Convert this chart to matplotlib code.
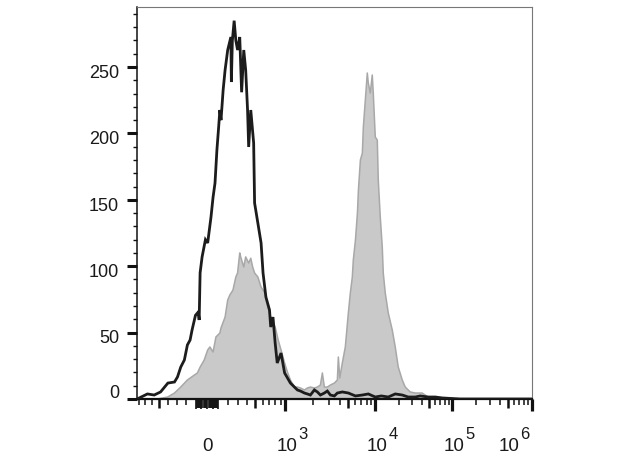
import numpy as np
import matplotlib
matplotlib.use("Agg")
import matplotlib.pyplot as plt
from matplotlib.ticker import FixedLocator, NullFormatter

plt.rcParams['font.family'] = ['Liberation Sans', 'DejaVu Sans']

# ---------------- data (fluorescence intensity vs. count) ----------------
black_x = [-840, -667, -567, -485, -400, -324, -292, -255, -218, -187, -157, -137, -107, -79, -70, -61,
           -43, -15, 3, 30, 48, 66, 85, 103, 113, 123, 143, 163, 193, 224, 229, 239, 258, 277, 298,
           320, 340, 364, 387, 409, 421, 445, 480, 492, 533, 576, 604, 647, 705, 724, 761, 798, 835,
           908, 982, 1133, 1350, 1456, 1609, 1734, 1869, 2066, 2230, 2406, 2662, 2872, 3106, 3459,
           3750, 4287, 5040, 6036, 7196, 8370, 10000, 11950, 14734, 18140, 22366, 26700, 32940,
           38200, 48450, 59800, 73600, 125000, 1000000]
black_y = [0, 3.8, 3, 5.3, 12, 12.8, 16.6, 24, 29.4, 40.7, 44.4, 52, 63, 65.5, 59.5, 95,
           107, 120, 117.5, 137, 152, 162.7, 187.5, 204.8, 217.6, 210, 232.7, 247.7, 262.8, 272.6, 238.7, 270, 284.9, 270, 262.8,
           272.6, 231, 262.8, 247.7, 217.6, 189.8, 217.6, 192.8, 147.6, 132.5, 117.5, 94.9, 76.8, 67, 54.2, 61.7, 42.2, 27.1,
           34.6, 19.6, 12, 6.8, 6, 4.5, 3.8, 3, 6.8, 5.3, 3, 4.5, 6, 3, 2.3,
           4.5, 5.3, 4.5, 2.3, 3, 3.8, 1.5, 2.3, 1.5, 3.8, 3, 1.5, 1.5,
           2.3, 1.5, 1.5, 0.8, 0, 0]

gray_x = [-524, -402, -324, -255, -187, -117, -88, -61, -25, 3, 21, 48, 75, 113, 123, 163, 193, 214,
          245, 277, 298, 320, 330, 364, 387, 421, 445, 468, 492, 533, 576, 633, 676, 724, 798, 853,
          908, 982, 1051, 1133, 1253, 1350, 1456, 1609, 1734, 1869, 2066, 2230, 2406, 2531, 2662,
          2872, 3106, 3459, 3750, 3852, 4000, 4287, 4646, 5040, 5300, 5575, 5718, 6036, 6348, 6510,
          6848, 7196, 7380, 7760, 8160, 8370, 8800, 9260, 9500, 10000, 10614, 10935, 11605, 12317,
          12690, 13470, 14734, 16590, 18140, 19840, 22366, 24450, 28370, 32940, 40500, 48450,
          73600, 93200]
gray_y = [0, 1.5, 4.5, 9, 14.3, 18, 19.6, 24, 29.4, 36.9, 39.2, 35.4, 46.7, 49.7, 53.5, 61.7, 74.5, 78.3,
          82, 91.9, 94.9, 110, 107, 99.4, 107, 102.4, 106, 99.4, 94.9, 91.9, 84.3, 79.8, 69.3, 61.7, 54.2, 44.4,
          36.9, 27.1, 20.3, 14.3, 9, 9, 8.3, 6.8, 8.3, 9, 8.3, 9, 10.5, 19.6, 9,
          9, 10.5, 12, 14.3, 31.6, 15.8, 27.1, 39.2, 64.8, 79.8, 91.9, 104.7, 119.7, 140, 157.4,
          180, 185.2, 204.8, 225, 245.5, 238, 230.4, 244, 230.4, 197.3, 195, 164.9, 137, 114.5,
          94.9, 79.8, 64.8, 52, 39.2, 24.1, 14.3, 9, 5.3, 4.5, 4.5, 1.5,
          0.8, 0]

y_tick_values = [0, 50, 100, 150, 200, 250]
x_decades = [3, 4, 5, 6]

# ---------------- biexponential-like axis scale ----------------
ANCHOR_VALS = np.array([0, 100, 200, 300, 400, 500, 700, 1e3, 2e3, 3e3, 5e3, 1e4, 1e5, 1e6, 1e7])
ANCHOR_POS = np.array([0, 11, 21, 30.5, 39.5, 48, 62, 78.3, 106, 122, 141, 168.3, 245.6, 325, 404.4])
ANCHOR_U = np.arcsinh(ANCHOR_VALS / 100.0)


def fwd(x):
    x = np.asarray(x, dtype=float)
    return np.sign(x) * np.interp(np.arcsinh(np.abs(x) / 100.0), ANCHOR_U, ANCHOR_POS)


def inv(g):
    g = np.asarray(g, dtype=float)
    return np.sign(g) * 100.0 * np.sinh(np.interp(np.abs(g), ANCHOR_POS, ANCHOR_U))


W, H = 623, 467
fig = plt.figure(figsize=(W / 100, H / 100), dpi=100)
ax = fig.add_axes([137 / W, 1 - 399 / H, (531.7 - 137) / W, (399 - 7) / H])
ax.set_xscale('function', functions=(fwd, inv))
ax.set_xlim(-842, 1e6)
ax.set_ylim(0, 295.2)

ax.fill_between(gray_x, gray_y, 0, facecolor='#c9c9c9', edgecolor='none', zorder=1)
ax.plot(gray_x, gray_y, color='#a8a8a8', lw=1.1, zorder=2)
ax.plot(black_x, black_y, color='#1c1c1c', lw=2.0, zorder=3, solid_joinstyle='miter')

# spines
for s in ['top', 'right']:
    ax.spines[s].set_color('#777777')
    ax.spines[s].set_linewidth(0.8)
ax.spines['left'].set_color('#111111')
ax.spines['left'].set_linewidth(1.1)
ax.spines['bottom'].set_color('#111111')
ax.spines['bottom'].set_linewidth(1.6)

# ---------------- y ticks ----------------
ax.yaxis.set_major_locator(FixedLocator(y_tick_values))
ax.yaxis.set_minor_locator(FixedLocator([v for v in range(10, 300, 10) if v % 50]))
ax.yaxis.set_major_formatter(NullFormatter())
ax.tick_params(axis='y', which='major', direction='out', length=7, width=2.2, color='#111111')
ax.tick_params(axis='y', which='minor', direction='out', length=3, width=1.0, color='#111111')
for v in y_tick_values:
    dy = 4.3 if v == 0 else -4.6
    ax.annotate(str(v), xy=(0, v), xycoords=('axes fraction', 'data'), xytext=(-13, dy),
                textcoords='offset points', ha='right', va='center', fontsize=13, color='#1a1a1a')

# ---------------- x ticks ----------------
x_major = [10 ** d for d in x_decades]
x_med = [-500, 500, 5e3, 5e4, 5e5]
x_zero = [v for v in range(-100, 101, 10)]
x_minor = [-800, -700, -600, -400, -300, -200, 200, 300, 400, 600, 700, 800, 900]
for d in [3, 4, 5]:
    x_minor += [m * 10 ** d for m in [2, 3, 4, 6, 7, 8, 9]]
all_x = x_major + x_med + x_zero + x_minor
ax.xaxis.set_major_locator(FixedLocator(all_x))
ax.xaxis.set_minor_locator(FixedLocator([]))
ax.xaxis.set_major_formatter(NullFormatter())
ax.tick_params(axis='x', which='major', direction='out', length=4.3, width=1.1, color='#111111')
ticks = ax.xaxis.get_major_ticks(len(all_x))
for t, v in zip(ticks, all_x):
    if v in x_major:
        t.tick1line.set_markersize(8.6)
        t.tick1line.set_markeredgewidth(2.3)
    elif v in x_med:
        t.tick1line.set_markersize(6.4)
        t.tick1line.set_markeredgewidth(1.8)
    elif v in x_zero:
        t.tick1line.set_markersize(7.5 if v in (0, -50, 50, -100, 100) else 6.5)
        t.tick1line.set_markeredgewidth(1.2)

# x labels
ax.annotate('0', xy=(0, 0), xycoords=('data', 'axes fraction'), xytext=(0, -34.5),
            textcoords='offset points', ha='center', va='center', fontsize=13.5, color='#1a1a1a')
for d in x_decades:
    shift = -16.3 if d == 6 else 1.1
    ax.annotate('10', xy=(10 ** d, 0), xycoords=('data', 'axes fraction'), xytext=(shift, -34.5),
                textcoords='offset points', ha='center', va='center', fontsize=13.5, color='#1a1a1a')
    ax.annotate(str(d), xy=(10 ** d, 0), xycoords=('data', 'axes fraction'), xytext=(shift + 11.6, -25.3),
                textcoords='offset points', ha='center', va='center', fontsize=12, color='#1a1a1a')

fig.savefig('out.png', dpi=100)
